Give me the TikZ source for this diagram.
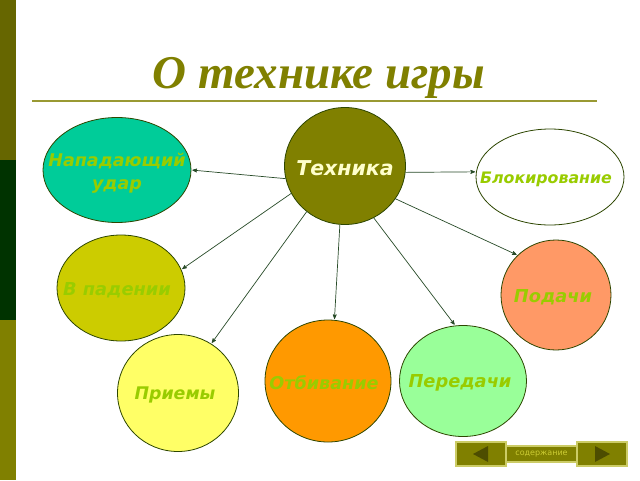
\documentclass[tikz,border=0pt]{standalone}
\usepackage{fontspec}
\setmainfont{Liberation Serif}
\newfontfamily\labelfont{DejaVu Sans}
\usetikzlibrary{arrows,shapes.geometric}

\definecolor{barTop}{RGB}{102,102,0}
\definecolor{barMid}{RGB}{0,51,0}
\definecolor{barLow}{RGB}{128,128,0}
\definecolor{titleOlive}{RGB}{128,128,0}
\definecolor{ruleOlive}{RGB}{153,153,51}
\definecolor{rimGreen}{RGB}{45,70,0}
\definecolor{linkGreen}{RGB}{40,75,40}
\definecolor{labelGreen}{RGB}{153,204,0}
\definecolor{techText}{RGB}{255,255,204}
\definecolor{techFill}{RGB}{128,128,0}
\definecolor{napadFill}{RGB}{0,204,153}
\definecolor{fallFill}{RGB}{204,204,0}
\definecolor{serveFill}{RGB}{255,153,102}
\definecolor{digFill}{RGB}{255,153,0}
\definecolor{passFill}{RGB}{153,255,153}
\definecolor{recvFill}{RGB}{255,255,102}
\definecolor{btnRim}{RGB}{204,204,102}
\definecolor{btnMark}{RGB}{77,77,0}
\definecolor{btnText}{RGB}{204,204,51}

\begin{document}
\begin{tikzpicture}[x=1pt,y=-1pt,>=stealth']
	\tikzstyle{blob}=[ellipse,draw=rimGreen,line width=0.8pt,inner sep=0pt]
	\tikzstyle{caption}=[text=labelGreen,align=center,yshift=-2pt]
	\tikzstyle{link}=[->,draw=linkGreen,line width=0.7pt,shorten >=1pt]
	\tikzstyle{button}=[rectangle,fill=barLow,draw=btnRim,line width=1.2pt,inner sep=0pt]
	\tikzset{capsize/.style={font=\labelfont\bfseries\itshape\fontsize{#1}{23}\selectfont}}
	
	% page and side bar
	\fill[white] (0,0) rectangle (640,480);
	\fill[barTop] (0,0) rectangle (16,160);
	\fill[barMid] (0,160) rectangle (16,320);
	\fill[barLow] (0,320) rectangle (16,480);
	
	\node[text=titleOlive,font=\fontsize{47}{50}\selectfont\bfseries\itshape] (title) at (319,78) {О технике игры};
	\coordinate (ruleL) at (32,101);
	\coordinate (ruleR) at (597,101);
	\draw[ruleOlive,line width=1.6pt] (ruleL) -- (ruleR);
	
	\node[blob,fill=techFill,minimum width=121pt,minimum height=117pt,
		label={[caption,text=techText,capsize=20.5]center:Техника}] (tech) at (345,166) {};
	\node[blob,fill=napadFill,minimum width=148pt,minimum height=105pt,
		label={[caption,capsize=17.5,yshift=-1pt]center:Нападающий\\удар}] (napad) at (117,170) {};
	\node[blob,fill=white,minimum width=148pt,minimum height=96pt,
		label={[caption,capsize=15.8,xshift=-4pt]center:Блокирование}] (block) at (550,177) {};
	\node[blob,fill=fallFill,minimum width=128pt,minimum height=106pt,
		label={[caption,capsize=17.8,xshift=-4pt]center:В падении}] (fall) at (121,288) {};
	\node[blob,fill=serveFill,minimum width=110pt,minimum height=110pt,
		label={[caption,capsize=17.8,xshift=-3pt]center:Подачи}] (serve) at (556,295) {};
	\node[blob,fill=digFill,minimum width=126pt,minimum height=122pt,
		label={[caption,capsize=17.6,xshift=-4pt]center:Отбивание}] (dig) at (328,381) {};
	\node[blob,fill=passFill,minimum width=127pt,minimum height=111pt,
		label={[caption,capsize=17.8,xshift=-3pt]center:Передачи}] (pass) at (463,381) {};
	\node[blob,fill=recvFill,minimum width=121pt,minimum height=117pt,
		label={[caption,capsize=17.4,xshift=-3pt]center:Приемы}] (recv) at (178,393) {};
	
	\draw[link] (tech.192) -- (napad.0);
	\draw[link] (tech.354) -- (block.176);
	\draw[link] (tech.207) -- (fall.17);
	\draw[link] (tech.230) -- (recv.56);
	\draw[link] (tech.265) -- (dig.84);
	\draw[link] (tech.299) -- (pass.98);
	\draw[link] (tech.327) -- (serve.134);
	
	% navigation buttons
	\node[button,minimum width=71pt,minimum height=16pt,text=btnText,
		font=\labelfont\fontsize{8}{8}\selectfont] (toc) at (541.5,454) {содержание};
	\node[button,minimum width=50pt,minimum height=24pt] (prev) at (481,454) {};
	\node[button,minimum width=50pt,minimum height=24pt] (next) at (602,454) {};
	\fill[btnMark,shift={(prev.center)}] (7,-8) -- (7,8) -- (-8,0) -- cycle;
	\fill[btnMark,shift={(next.center)}] (-7,-8) -- (-7,8) -- (8,0) -- cycle;
\end{tikzpicture}
\end{document}
